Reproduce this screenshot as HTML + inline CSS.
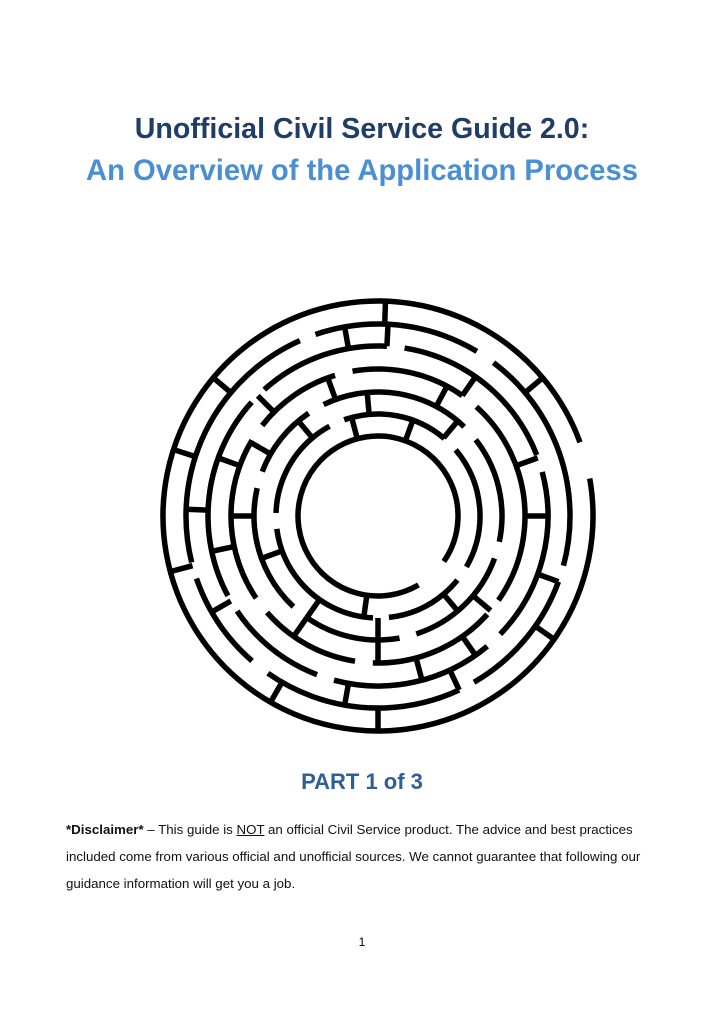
<!DOCTYPE html>
<html><head><meta charset="utf-8"><style>
body{margin:0;background:#fff;}
.p{position:relative;width:724px;height:1023px;overflow:hidden;font-family:"Liberation Sans",Arial,sans-serif;}
.t{position:absolute;left:0;width:724px;text-align:center;font-weight:bold;white-space:nowrap;}
.d{position:absolute;left:66px;font-size:13.3px;color:#111;line-height:27px;top:816px;width:590px;}
</style></head><body><div class="p">
<div class="t" style="top:113px;font-size:28.6px;color:#1f3d66;">Unofficial Civil Service Guide 2.0:</div>
<div class="t" style="top:155px;font-size:29.2px;color:#4a8fd4;">An Overview of the Application Process</div>
<svg style="position:absolute;left:0;top:0" width="724" height="1023">
<g transform="translate(378,516)" fill="none" stroke="#000" stroke-width="5.5">
<circle r="215" pathLength="360" stroke-dasharray="350 10" transform="rotate(-10)"/>
<circle r="192" pathLength="360" stroke-dasharray="40 5 60 6 30 5 80 5 50 6 68 5" transform="rotate(20)"/>
<circle r="170" pathLength="360" stroke-dasharray="55 6 35 6 70 6 45 6 60 6 59 6" transform="rotate(50)"/>
<circle r="147" pathLength="360" stroke-dasharray="30 7 50 7 40 7 65 7 35 7 45 7 53 7" transform="rotate(5)"/>
<circle r="124" pathLength="360" stroke-dasharray="45 8 60 8 35 8 70 8 50 8 52 8" transform="rotate(80)"/>
<circle r="102" pathLength="360" stroke-dasharray="70 9 45 9 80 9 60 9 60 9" transform="rotate(-40)"/>
<circle r="80" pathLength="360" stroke-dasharray="335 25" transform="rotate(60)"/>
<g>
<line x1="192" x2="215" transform="rotate(-88)"/>
<line x1="170" x2="192" transform="rotate(-100)"/>
<line x1="170" x2="192" transform="rotate(-87)"/>
<line x1="192" x2="215" transform="rotate(-40)"/>
<line x1="192" x2="215" transform="rotate(-140)"/>
<line x1="192" x2="215" transform="rotate(-162)"/>
<line x1="170" x2="192" transform="rotate(-178)"/>
<line x1="192" x2="215" transform="rotate(165)"/>
<line x1="170" x2="192" transform="rotate(150)"/>
<line x1="192" x2="215" transform="rotate(120)"/>
<line x1="170" x2="192" transform="rotate(100)"/>
<line x1="192" x2="215" transform="rotate(90)"/>
<line x1="170" x2="192" transform="rotate(65)"/>
<line x1="192" x2="215" transform="rotate(35)"/>
<line x1="170" x2="192" transform="rotate(20)"/>
<line x1="147" x2="170" transform="rotate(0)"/>
<line x1="147" x2="170" transform="rotate(-20)"/>
<line x1="147" x2="170" transform="rotate(-55)"/>
<line x1="124" x2="147" transform="rotate(-62)"/>
<line x1="124" x2="147" transform="rotate(-110)"/>
<line x1="147" x2="170" transform="rotate(-135)"/>
<line x1="147" x2="170" transform="rotate(-160)"/>
<line x1="124" x2="147" transform="rotate(-150)"/>
<line x1="147" x2="170" transform="rotate(168)"/>
<line x1="124" x2="147" transform="rotate(180)"/>
<line x1="124" x2="147" transform="rotate(125)"/>
<line x1="147" x2="170" transform="rotate(75)"/>
<line x1="124" x2="147" transform="rotate(90)"/>
<line x1="147" x2="170" transform="rotate(55)"/>
<line x1="124" x2="147" transform="rotate(40)"/>
<line x1="102" x2="124" transform="rotate(-95)"/>
<line x1="102" x2="124" transform="rotate(-130)"/>
<line x1="80" x2="102" transform="rotate(-105)"/>
<line x1="80" x2="102" transform="rotate(-70)"/>
<line x1="102" x2="124" transform="rotate(-50)"/>
<line x1="102" x2="124" transform="rotate(160)"/>
<line x1="80" x2="102" transform="rotate(98)"/>
<line x1="102" x2="124" transform="rotate(90)"/>
<line x1="102" x2="124" transform="rotate(50)"/>
<line x1="102" x2="124" transform="rotate(125)"/>
</g>
</g>
</svg>
<div class="t" style="top:769px;font-size:22px;color:#2e5f99;">PART 1 of 3</div>
<div class="d"><b>*Disclaimer*</b> – This guide is <u>NOT</u> an official Civil Service product. The advice and best practices included come from various official and unofficial sources. We cannot guarantee that following our guidance information will get you a job.</div>
<div style="position:absolute;top:935px;left:0;width:724px;text-align:center;font-size:12px;">1</div>
</div></body></html>
